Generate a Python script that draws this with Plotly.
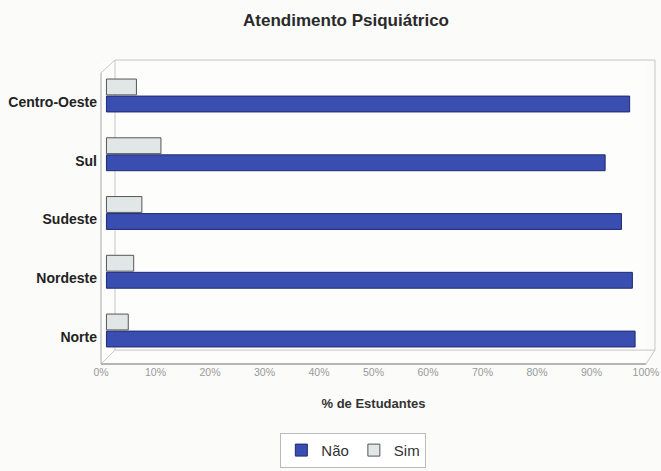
import plotly.graph_objects as go

regioes = ["Norte", "Nordeste", "Sudeste", "Sul", "Centro-Oeste"]
nao = [97, 96.5, 94.5, 91.5, 96]
sim = [4, 5, 6.5, 10, 5.5]
x_ticks = [0, 10, 20, 30, 40, 50, 60, 70, 80, 90, 100]
x_tick_labels = [f"{v}%" for v in x_ticks]

fig = go.Figure()
fig.add_trace(go.Bar(
    y=regioes, x=nao, orientation="h", name="Não", base=1,
    offset=-0.17, width=0.27,
    marker=dict(color="#3a4db0", line=dict(color="#1f2a70", width=1)),
))
fig.add_trace(go.Bar(
    y=regioes, x=sim, orientation="h", name="Sim", base=1,
    offset=0.12, width=0.27,
    marker=dict(color="#e1e7e7", line=dict(color="#555555", width=1)),
))

box = "#c8c6c6"
shapes = [
    dict(type="rect", xref="paper", yref="paper", x0=0.0257, x1=1.0165, y0=0.046, y1=1.0066,
         line=dict(color=box, width=1), fillcolor="rgba(0,0,0,0)", layer="below"),
    dict(type="line", xref="paper", yref="paper", x0=0.0, x1=1.0, y0=0.0, y1=0.0,
         line=dict(color="#9c9c9c", width=1.5)),
    dict(type="line", xref="paper", yref="paper", x0=0.0, x1=0.0257, y0=0.0, y1=0.046,
         line=dict(color=box, width=1)),
    dict(type="line", xref="paper", yref="paper", x0=1.0, x1=1.0165, y0=0.0, y1=0.046,
         line=dict(color=box, width=1)),
    dict(type="line", xref="paper", yref="paper", x0=0.0, x1=0.0, y0=0.0, y1=0.964,
         line=dict(color="#a8a8a8", width=1)),
    dict(type="line", xref="paper", yref="paper", x0=0.0, x1=0.0257, y0=0.964, y1=1.0066,
         line=dict(color=box, width=1)),
]

fig.update_layout(
    width=661, height=471,
    margin=dict(l=101, r=15, t=62, b=107, autoexpand=False),
    paper_bgcolor="#fbfbfa", plot_bgcolor="#fdfdfc",
    font=dict(family="Liberation Sans, Arial, sans-serif", color="#222222"),
    title=dict(text="<b>Atendimento Psiquiátrico</b>", x=0.5235, xanchor="center",
               yref="container", y=0.958, yanchor="middle",
               font=dict(size=17, color="#2a2a2a")),
    barmode="overlay",
    showlegend=True,
    legend=dict(orientation="h", x=0.463, xanchor="center",
                yref="container", y=0.081, yanchor="top",
                bordercolor="#bbbbbb", borderwidth=1, bgcolor="#ffffff",
                font=dict(size=15, color="#333333"), itemwidth=30,
                traceorder="normal"),
    xaxis=dict(range=[0, 100], tickvals=x_ticks, ticktext=x_tick_labels,
               showgrid=False, zeroline=False, showline=False, automargin=False,
               tickfont=dict(size=10.5, color="#999999"), ticks="",
               title=dict(text="<b>% de Estudantes</b>", font=dict(size=13, color="#333333"),
                          standoff=22)),
    yaxis=dict(range=[-0.46, 4.68], showgrid=False, zeroline=False, showline=False,
               automargin=False,
               tickfont=dict(size=14, color="#222222"), ticks="", ticklabelstandoff=3,
               tickprefix="<b>", ticksuffix="</b>"),
    shapes=shapes,
)

fig.write_html("out.html", post_script="document.body.style.margin='0';",
               config={"displayModeBar": False})
